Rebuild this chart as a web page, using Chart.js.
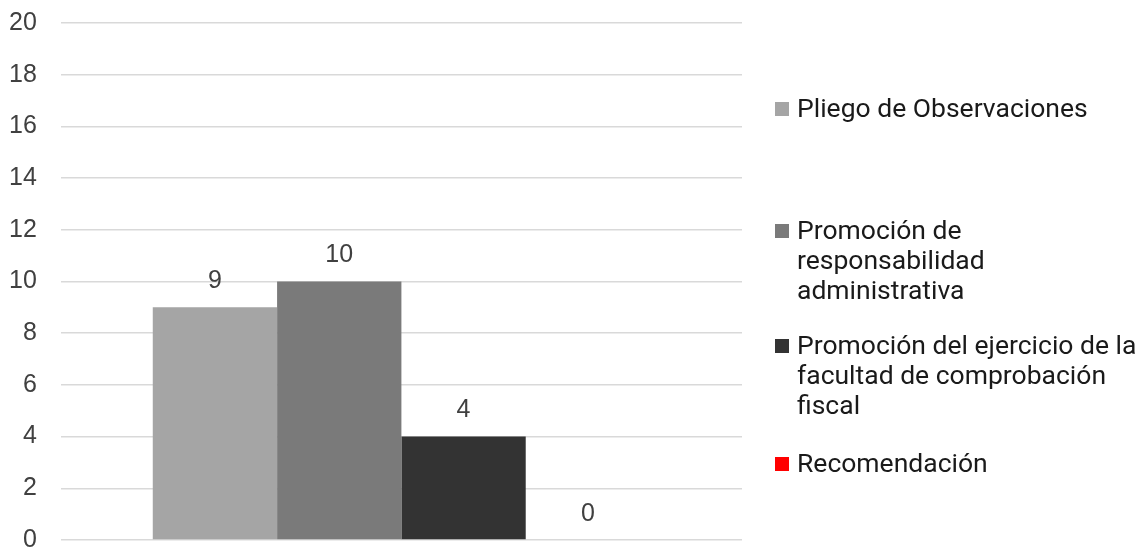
<!DOCTYPE html>
<html>
<head>
<meta charset="utf-8">
<script src="https://cdn.jsdelivr.net/npm/chart.js@4"></script>
<style>
  body { margin: 0; background: #fff; }
  #wrap { position: relative; width: 1145px; height: 550px; }
  #legend { position: absolute; left: 775px; top: 0; font-family: Roboto, sans-serif; font-size: 26.5px; color: #1a1a1a; }
  .item { position: absolute; left: 0; display: flex; align-items: flex-start; white-space: nowrap; line-height: 30px; }
  .box { width: 14px; height: 14px; margin-top: 9px; margin-right: 8px; flex: none; }
</style>
</head>
<body>
<div id="wrap">
  <canvas id="barChart" width="1145" height="550"></canvas>
  <div id="legend"></div>
</div>
<script>
var categories = [""];
var seriesNames = [
  ["Pliego de Observaciones"],
  ["Promoción de", "responsabilidad", "administrativa"],
  ["Promoción del ejercicio de la", "facultad de comprobación", "fiscal"],
  ["Recomendación"]
];
var seriesValues = [[9], [10], [4], [0]];
var seriesColors = ["#A5A5A5", "#7A7A7A", "#333333", "#FF0000"];
var yTicks = [0, 2, 4, 6, 8, 10, 12, 14, 16, 18, 20];

var valueLabels = {
  id: 'valueLabels',
  afterDatasetsDraw: function (chart) {
    var ctx = chart.ctx;
    ctx.save();
    ctx.font = '25px "Liberation Sans", Arial, sans-serif';
    ctx.fillStyle = '#404040';
    ctx.textAlign = 'center';
    ctx.textBaseline = 'middle';
    chart.data.datasets.forEach(function (ds, i) {
      chart.getDatasetMeta(i).data.forEach(function (bar, j) {
        ctx.fillText(ds.data[j], bar.x, bar.y - 26);
      });
    });
    ctx.restore();
  }
};

var chart = new Chart(document.getElementById("barChart"), {
  type: 'bar',
  data: {
    labels: categories,
    datasets: seriesNames.map(function (name, i) {
      return {
        label: name.join(" "),
        data: seriesValues[i],
        backgroundColor: seriesColors[i]
      };
    })
  },
  options: {
    responsive: false,
    animation: false,
    layout: { padding: { left: -15, right: 403, top: 23, bottom: 10 } },
    datasets: { bar: { categoryPercentage: 0.73, barPercentage: 1 } },
    plugins: { legend: { display: false }, tooltip: { enabled: false } },
    scales: {
      x: {
        display: false
      },
      y: {
        min: 0,
        max: 20,
        afterBuildTicks: function (axis) {
          axis.ticks = yTicks.map(function (v) { return { value: v }; });
        },
        afterFit: function (axis) {
          // tick padding should only push labels sideways, not shrink the plot vertically
          axis.paddingTop = 0;
          axis.paddingBottom = 0;
        },
        grid: { color: '#D9D9D9', lineWidth: 1.5, drawTicks: false },
        border: { display: false },
        ticks: {
          padding: 24,
          color: '#404040',
          font: { family: '"Liberation Sans", Arial, sans-serif', size: 25 }
        }
      }
    }
  },
  plugins: [valueLabels]
});

// legend built from the same series names / colours
var legendTops = [93, 215, 330, 448];
var legend = document.getElementById("legend");
seriesNames.forEach(function (name, i) {
  var item = document.createElement("div");
  item.className = "item";
  item.style.top = legendTops[i] + "px";
  var box = document.createElement("span");
  box.className = "box";
  box.style.background = seriesColors[i];
  var text = document.createElement("span");
  text.innerHTML = name.join("<br>");
  item.appendChild(box);
  item.appendChild(text);
  legend.appendChild(item);
});
</script>
</body>
</html>
